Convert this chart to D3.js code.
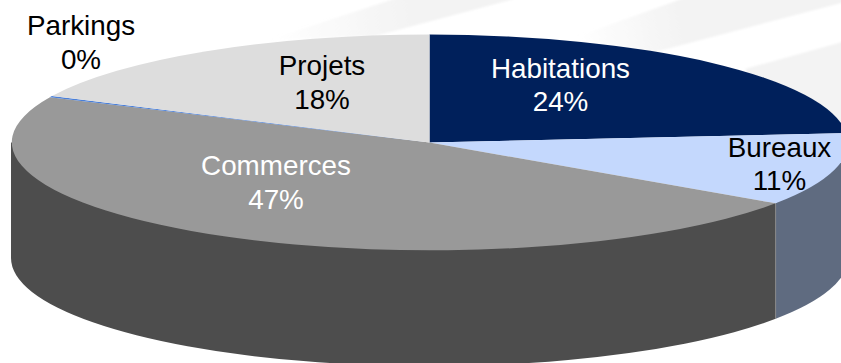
<!DOCTYPE html>
<html>
<head>
<meta charset="utf-8">
<script src="https://cdn.jsdelivr.net/npm/d3@7"></script>
<style>
  html, body { margin: 0; padding: 0; background: #fff; }
  svg { display: block; }
  text { font-family: "Liberation Sans", Arial, sans-serif; font-size: 27.8px; text-anchor: middle; }
</style>
</head>
<body>
<svg id="chart" width="841" height="363"></svg>
<script>
// Portfolio breakdown by asset type, in percent
const categories = ["Habitations", "Bureaux", "Commerces", "Parkings", "Projets"];
const shares = [23.6, 10.9, 47.4, 0.2, 17.9];

const topColors = ["#00205b", "#c4d8fd", "#999999", "#4a7fd8", "#dddddd"];
const wallColors = ["#00133a", "#5f6b80", "#4d4d4d", "#2c4c82", "#6e6e6e"];
const labelColors = ["#ffffff", "#000000", "#ffffff", "#000000", "#000000"];

// Centre of each two-line label
const labelCentres = [[560.5, 85.5], [779.5, 164.7], [276, 183], [81, 43], [322, 83]];

const width = 841, height = 363;
const cx = 429.5, cy = 142.6, rx = 418.5, ry = 108, depth = 115.5;

const svg = d3.select("#chart");

// Faint diagonal bands behind the disc, with soft edges and a fading left tip
const defs = svg.append("defs");
defs.append("filter").attr("id", "soft")
  .attr("x", "-5%").attr("y", "-20%").attr("width", "110%").attr("height", "140%")
  .append("feGaussianBlur").attr("stdDeviation", 1.2);
const fade = defs.append("linearGradient").attr("id", "bandFade")
  .attr("gradientUnits", "userSpaceOnUse")
  .attr("x1", 270).attr("y1", 38).attr("x2", 410).attr("y2", 16);
fade.append("stop").attr("offset", 0).attr("stop-color", "#f3f3f3").attr("stop-opacity", 0);
fade.append("stop").attr("offset", 1).attr("stop-color", "#f3f3f3");
const fade2 = defs.append("linearGradient").attr("id", "bandFade2")
  .attr("gradientUnits", "userSpaceOnUse")
  .attr("x1", 577).attr("y1", 37).attr("x2", 680).attr("y2", 20);
fade2.append("stop").attr("offset", 0).attr("stop-color", "#f3f3f3").attr("stop-opacity", 0);
fade2.append("stop").attr("offset", 1).attr("stop-color", "#f3f3f3");

const bands = [
  { fill: "url(#bandFade)", pts: [[268, 40], [403, -4], [525, -4], [375, 36]] },
  { fill: "url(#bandFade2)", pts: [[570, 39], [690, -4], [860, -4], [860, -2], [655, 52]] },
  { fill: "#f3f3f3", pts: [[745, 69], [860, 37], [860, 130], [790, 130]] }
];
svg.append("g").attr("filter", "url(#soft)")
  .selectAll("polygon").data(bands).join("polygon")
  .attr("points", d => d.pts.map(p => p.join(",")).join(" "))
  .attr("fill", d => d.fill);

// Clockwise from twelve o'clock
const pie = d3.pie().sort(null)(shares);
const px = a => cx + rx * Math.sin(a);
const py = a => cy - ry * Math.cos(a);

// Rim of the disc: only the part facing the viewer is drawn. The upper edge
// is a chord hidden under the top face, so no light seam shows along the rim.
function wallPath(a0, a1) {
  const from = Math.max(a0, Math.PI / 2), to = Math.min(a1, 3 * Math.PI / 2);
  if (to <= from) return null;
  return `M${px(from)},${py(from)}`
    + `L${px(to)},${py(to)}`
    + `L${px(to)},${py(to) + depth}`
    + `A${rx},${ry} 0 0 0 ${px(from)},${py(from) + depth}Z`;
}

const walls = svg.append("g");
pie.forEach((d, i) => {
  const path = wallPath(d.startAngle, d.endAngle);
  if (path) walls.append("path").attr("d", path).attr("fill", wallColors[i]);
});

// Thin seam where the wall colours meet on the right
pie.slice(0, -1).forEach(d => {
  const a = d.endAngle;
  if (a > Math.PI / 2 && a < Math.PI) {
    walls.append("line")
      .attr("x1", px(a)).attr("y1", py(a))
      .attr("x2", px(a)).attr("y2", py(a) + depth)
      .attr("stroke", "#8a8a8a").attr("stroke-width", 0.8);
  }
});

// Top face: a flat pie squashed into an ellipse
const arc = d3.arc().innerRadius(0).outerRadius(1);
svg.append("g")
  .attr("transform", `translate(${cx},${cy}) scale(${rx},${ry})`)
  .selectAll("path").data(pie).join("path")
  .attr("d", arc)
  .attr("fill", (d, i) => topColors[i]);

// Name and rounded share for each slice
const labels = svg.append("g").selectAll("text").data(categories).join("text")
  .attr("fill", (d, i) => labelColors[i]);
labels.append("tspan")
  .attr("x", (d, i) => labelCentres[i][0])
  .attr("y", (d, i) => labelCentres[i][1] - 8)
  .text(d => d);
labels.append("tspan")
  .attr("x", (d, i) => labelCentres[i][0])
  .attr("y", (d, i) => labelCentres[i][1] + 25.5)
  .text((d, i) => Math.round(shares[i]) + "%");
</script>
</body>
</html>
